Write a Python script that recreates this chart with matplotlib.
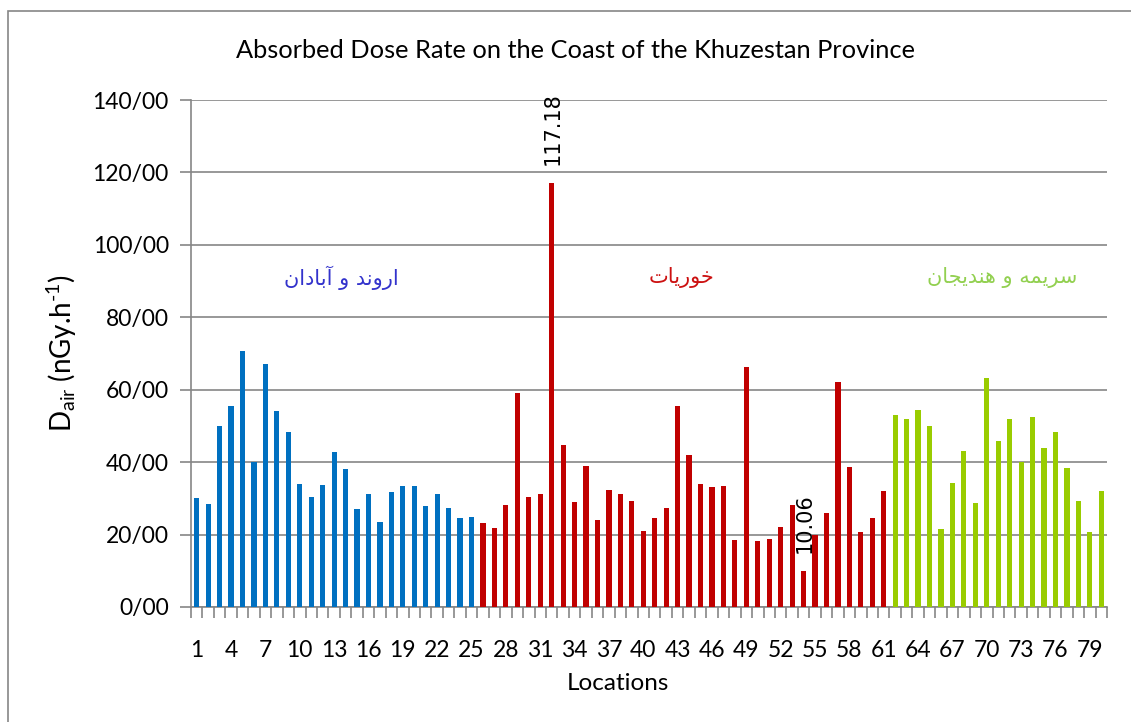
import matplotlib
matplotlib.use("Agg")
import matplotlib.pyplot as plt
from matplotlib.patches import Rectangle
from matplotlib.ticker import FixedLocator, NullFormatter

plt.rcParams['font.family'] = ['Lato', 'DejaVu Sans']
plt.rcParams['mathtext.fontset'] = 'custom'
plt.rcParams['mathtext.rm'] = 'Lato'
plt.rcParams['mathtext.it'] = 'Lato:italic'
plt.rcParams['mathtext.bf'] = 'Lato:bold'

# ---------------- data ----------------
locations = list(range(1, 81))
dose_arvand = [30.1, 28.5, 50.1, 55.6, 70.6, 40.1, 67.0, 54.0, 48.2, 34.0,
               30.4, 33.7, 42.9, 38.2, 27.1, 31.2, 23.5, 31.8, 33.5, 33.5,
               27.9, 31.2, 27.4, 24.6, 24.9]
dose_khouriat = [23.2, 21.7, 28.1, 59.0, 30.5, 31.1, 117.18, 44.6, 28.9, 38.8,
                 23.9, 32.2, 31.1, 29.2, 20.9, 24.5, 27.2, 55.4, 41.9, 34.1,
                 33.0, 33.3, 18.4, 66.4, 18.1, 18.7, 22.0, 28.2, 10.06, 19.9,
                 26.0, 62.0, 38.7, 20.7, 24.6, 32.1]
dose_sarimeh = [52.9, 51.8, 54.5, 50.1, 21.5, 34.3, 43.2, 28.7, 63.1, 45.9,
                52.0, 40.1, 52.6, 44.0, 48.4, 38.4, 29.3, 20.7, 32.1]
region_names = ["اروند و آبادان", "خوریات", "سریمه و هندیجان"]
annotated = [117.18, 10.06]
yticks = [0, 20, 40, 60, 80, 100, 120, 140]
ytick_labels = ["0/00", "20/00", "40/00", "60/00", "80/00", "100/00", "120/00", "140/00"]
xtick_labels = list(range(1, 81, 3))

title = "Absorbed Dose Rate on the Coast of the Khuzestan Province"

# --------- minimal Arabic-script shaping for display ---------
FORMS = {
    '\u0627': ('\uFE8D', '\uFE8E'), '\u0622': ('\uFE81', '\uFE82'),
    '\u0631': ('\uFEAD', '\uFEAE'), '\u0648': ('\uFEED', '\uFEEE'),
    '\u062F': ('\uFEA9', '\uFEAA'),
    '\u0646': ('\uFEE5', '\uFEE6', '\uFEE7', '\uFEE8'),
    '\u0628': ('\uFE8F', '\uFE90', '\uFE91', '\uFE92'),
    '\u062E': ('\uFEA5', '\uFEA6', '\uFEA7', '\uFEA8'),
    '\u06CC': ('\uFBFC', '\uFBFD', '\uFBFE', '\uFBFF'),
    '\u062A': ('\uFE95', '\uFE96', '\uFE97', '\uFE98'),
    '\u0633': ('\uFEB1', '\uFEB2', '\uFEB3', '\uFEB4'),
    '\u0645': ('\uFEE1', '\uFEE2', '\uFEE3', '\uFEE4'),
    '\u0647': ('\uFEE9', '\uFEEA', '\uFEEB', '\uFEEC'),
    '\u062C': ('\uFE9D', '\uFE9E', '\uFE9F', '\uFEA0'),
}


def shape(text):
    out = []
    n = len(text)
    for i, ch in enumerate(text):
        if ch not in FORMS:
            out.append(ch)
            continue
        f = FORMS[ch]
        prev = text[i - 1] if i > 0 else ''
        nxt = text[i + 1] if i < n - 1 else ''
        jp = prev in FORMS and len(FORMS[prev]) == 4
        jn = len(f) == 4 and nxt in FORMS
        if jp and jn:
            out.append(f[3])
        elif jp:
            out.append(f[1])
        elif jn:
            out.append(f[2])
        else:
            out.append(f[0])
    return ''.join(reversed(out))


# ---------------- figure ----------------
W, H = 1131, 722
fig = plt.figure(figsize=(W / 100, H / 100), dpi=100)
fig.patch.set_facecolor('white')
fig.patches.append(Rectangle((8 / W, -0.2), 1.3, 1.2 - 11 / H,
                             transform=fig.transFigure, fill=False,
                             edgecolor='#868686', lw=1.2))

ax = fig.add_axes([191 / W, 1 - 607 / H, (1107 - 191) / W, (607 - 100) / H])

blue, red, green = '#0070C0', '#C00000', '#99CC00'
n1, n2 = len(dose_arvand), len(dose_khouriat)
x1 = locations[:n1]
x2 = locations[n1:n1 + n2]
x3 = locations[n1 + n2:]
bw = 0.45
ax.bar(x1, dose_arvand, width=bw, color=blue, zorder=3)
ax.bar(x2, dose_khouriat, width=bw, color=red, zorder=3)
ax.bar(x3, dose_sarimeh, width=bw, color=green, zorder=3)

ax.set_xlim(0.5, 80.5)
ax.set_ylim(0, 140)

ax.set_yticks(yticks)
ax.set_yticklabels(ytick_labels, fontsize=16.5)
ax.yaxis.grid(True, color='#868686', lw=1.2, zorder=0)
ax.tick_params(axis='y', length=8, width=1.2, color='#868686', pad=8)

ax.set_xticks(xtick_labels)
ax.set_xticklabels([str(v) for v in xtick_labels], fontsize=16.5)
ax.tick_params(axis='x', which='major', length=0, pad=24)
ax.xaxis.set_minor_locator(FixedLocator([k + 0.5 for k in range(0, 81)]))
ax.xaxis.set_minor_formatter(NullFormatter())
ax.tick_params(axis='x', which='minor', length=8, width=1.2, color='#868686')

for s in ['top', 'right']:
    ax.spines[s].set_visible(False)
for s in ['left', 'bottom']:
    ax.spines[s].set_color('#868686')
    ax.spines[s].set_linewidth(1.2)

# annotations
all_vals = dose_arvand + dose_khouriat + dose_sarimeh
for v in annotated:
    idx = all_vals.index(v)
    ax.annotate(f"{v:.2f}", xy=(locations[idx], v), xytext=(1, 13),
                textcoords='offset points', rotation=90, ha='center',
                va='bottom', fontsize=15, family='DejaVu Sans', color='black')

# region labels
reg_pos = [(341, 278, '#3333CC'), (682, 278, '#CC1111'), (1002, 278, '#92D050')]
for name, (px, py, c) in zip(region_names, reg_pos):
    fig.text(px / W, 1 - py / H, shape(name), ha='center', va='center',
             fontsize=15, color=c, family='DejaVu Sans')

fig.text(575 / W, 1 - 51 / H, title, ha='center', va='center', fontsize=18.3)
fig.text(618 / W, 1 - 684 / H, "Locations", ha='center', va='center', fontsize=17.5)
fig.text(62 / W, 1 - 353 / H, r"D$_{\mathrm{air}}$ (nGy.h$^{\text{-1}}$)",
         ha='center', va='center', rotation=90, fontsize=20)

fig.savefig('out.png', dpi=100)
